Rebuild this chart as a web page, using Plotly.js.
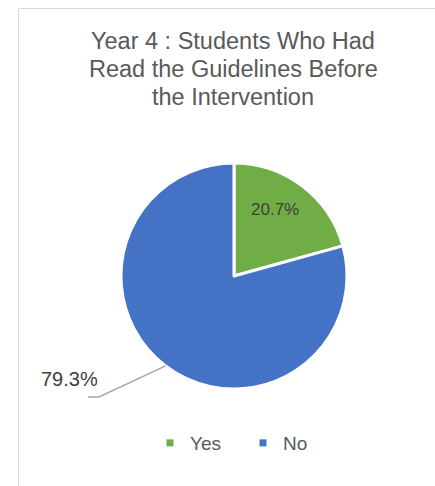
<!DOCTYPE html>
<html>
<head>
<meta charset="utf-8">
<script src="https://cdn.plot.ly/plotly-3.0.1.min.js"></script>
<style>html,body{margin:0;padding:0;background:#fff;}#chart{width:435px;height:486px;}</style>
</head>
<body>
<div id="chart"></div>
<script>
const categories = ["Yes", "No"];
const values = [20.7, 79.3];
const colors = ["#70AD47", "#4472C4"];
const titleLines = ["Year 4 : Students Who Had", "Read the Guidelines Before", "the Intervention"];

const W = 435, H = 486;
const cx = 234, cy = 276, R = 113;
const FONT = "Liberation Sans, Arial, sans-serif";
const total = values.reduce((a, b) => a + b, 0);
const pctText = values.map(v => (v / total * 100).toFixed(1) + "%");

const startAngle = values[0] / total * 360;
const midAngle = (startAngle + 360) / 2 * Math.PI / 180;
const ex = cx + R * Math.sin(midAngle);
const ey = cy - R * Math.cos(midAngle);
const px = x => x / W;
const py = y => 1 - y / H;

const pie = {
  type: "pie",
  labels: categories,
  values: values,
  sort: false,
  direction: "clockwise",
  rotation: 0,
  marker: {colors: colors, line: {color: "#ffffff", width: 3}},
  textinfo: "none",
  domain: {x: [px(cx - R), px(cx + R)], y: [py(cy + R), py(cy - R)]},
  showlegend: false,
  hoverinfo: "label+percent"
};

const legendTraces = categories.map((c, i) => ({
  type: "scatter", mode: "markers", x: [null], y: [null], name: c,
  marker: {symbol: "square", size: 7, color: colors[i]},
  showlegend: true, hoverinfo: "skip"
}));

const titleAnn = titleLines.map((t, i) => ({
  xref: "paper", yref: "paper", x: px(233), y: py(41 + i * 27.8),
  xanchor: "center", yanchor: "middle", text: t, showarrow: false,
  font: {family: FONT, size: 23.5, color: "#595959"}
}));

const layout = {
  width: W, height: H,
  margin: {l: 0, r: 0, t: 0, b: 0},
  paper_bgcolor: "#ffffff", plot_bgcolor: "rgba(0,0,0,0)",
  font: {family: FONT, color: "#595959"},
  xaxis: {visible: false, range: [0, 1]},
  yaxis: {visible: false, range: [0, 1]},
  showlegend: true,
  legend: {
    orientation: "h", x: px(150), xanchor: "left", y: py(443), yanchor: "middle",
    font: {family: FONT, size: 19, color: "#595959"},
    entrywidth: 48, entrywidthmode: "pixels", itemclick: false, bgcolor: "rgba(0,0,0,0)"
  },
  shapes: [
    {type: "line", xref: "paper", yref: "paper", x0: px(18.5), x1: px(18.5), y0: -0.1, y1: py(8.5), line: {color: "#d9d9d9", width: 1}},
    {type: "line", xref: "paper", yref: "paper", x0: px(18.5), x1: 1.1, y0: py(8.5), y1: py(8.5), line: {color: "#d9d9d9", width: 1}},
    {type: "path", xref: "paper", yref: "paper",
     path: `M${px(ex)},${py(ey)} L${px(99)},${py(397)} L${px(88)},${py(397)}`,
     line: {color: "#a6a6a6", width: 1.5}}
  ],
  annotations: titleAnn.concat([
    {xref: "paper", yref: "paper", x: px(274.5), y: py(210), xanchor: "center", yanchor: "middle",
     text: pctText[0], showarrow: false,
     font: {family: FONT, size: 17, color: "#404040"}},
    {xref: "paper", yref: "paper", x: px(69.5), y: py(379), xanchor: "center", yanchor: "middle",
     text: pctText[1], showarrow: false,
     font: {family: FONT, size: 20, color: "#404040"}}
  ])
};

Plotly.newPlot("chart", [pie, ...legendTraces], layout, {displayModeBar: false, staticPlot: true});
</script>
</body>
</html>
